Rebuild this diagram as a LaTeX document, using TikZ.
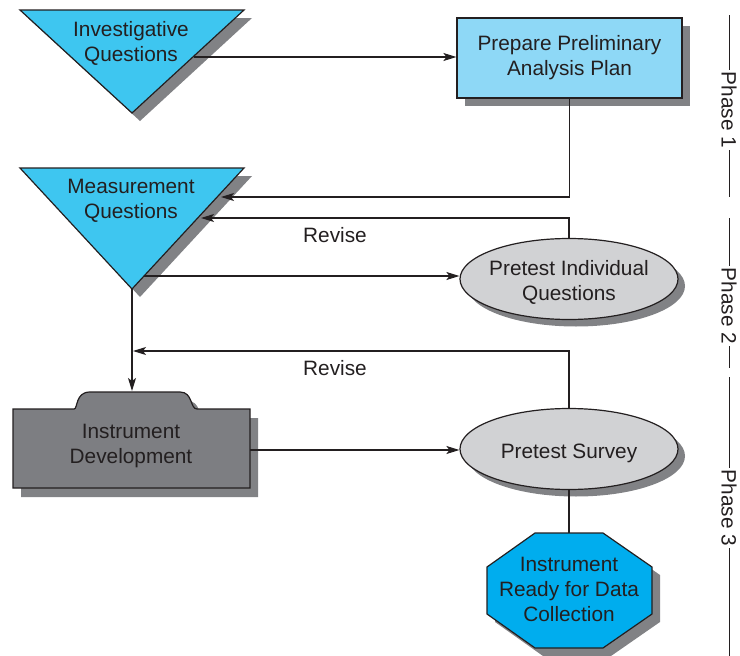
\documentclass[tikz,border=0pt]{standalone}
\usepackage{fontspec}
\setmainfont{Liberation Sans}
\usetikzlibrary{arrows.meta,shapes.geometric,shadows}
\definecolor{ink}{HTML}{231F20}
\definecolor{triblue}{HTML}{3EC6F0}
\definecolor{planblue}{HTML}{8ED8F6}
\definecolor{ovalgray}{HTML}{D1D2D4}
\definecolor{devgray}{HTML}{7D7E82}
\definecolor{octblue}{HTML}{00ADEE}
\definecolor{shgray}{HTML}{818285}
\begin{document}
\begin{tikzpicture}[x=1pt,y=-1pt,font=\fontsize{20.8}{25}\selectfont,>={Stealth[length=13pt,width=8pt,inset=3pt]},
  ln/.style={line width=1.2pt,draw=ink},
  shdw/.style={drop shadow={shadow xshift=8pt,shadow yshift=-8pt,fill=shgray,opacity=1}},
  txt/.style={align=center,text=ink,inner sep=0pt},
  tri/.style={draw=ink,line width=1.2pt,fill=triblue,shdw},
  planbox/.style={txt,draw=ink,line width=1.2pt,fill=planblue,minimum width=225pt,minimum height=80pt,shdw},
  oval/.style={ellipse,draw=ink,line width=1.2pt,fill=ovalgray,inner sep=0pt,minimum width=218pt,minimum height=81pt,
    drop shadow={shadow xshift=7pt,shadow yshift=-7pt,fill=shgray,opacity=1}},
  devbox/.style={draw=ink,line width=1.2pt,fill=devgray,drop shadow={shadow xshift=8pt,shadow yshift=-9pt,fill=shgray,opacity=1}},
  octo/.style={draw=ink,line width=1.2pt,fill=octblue,shdw},
  phase/.style={rotate=-90,inner sep=2pt,text=ink}]
  \useasboundingbox (0,0) rectangle (740,656);
  % shapes
  \draw[tri] (20,10) -- (244,10) -- (132,113) -- cycle;
  \node[txt] (iq) at (131,43) {Investigative\\Questions};
  \node[planbox] (plan) at (569.5,58) {Prepare Preliminary\\Analysis Plan};
  \draw[tri] (20,168) -- (244,168) -- (132,289) -- cycle;
  \node[txt] (mq) at (131,201) {Measurement\\Questions};
  \node[oval] (pind) at (569,279) {};
  \node[txt] (pind-t) at (569,282) {Pretest Individual\\Questions};
  \node[oval] (psur) at (569,449) {};
  \node[txt,text depth=0pt] (psur-t) at (569,451) {Pretest Survey};
  \draw[devbox] (13,488) -- (13,409) -- (74,409) .. controls (78,409) and (75,392) .. (90,392) -- (180,392)
    .. controls (193,392) and (190,409) .. (197,409) -- (250,409) -- (250,488) -- cycle;
  \node[txt] (dev) at (131,446) {Instrument\\Development};
  \draw[octo] (535,533) -- (603,533) -- (652,567) -- (652,614) -- (603,648) -- (535,648) -- (487,614) -- (487,567) -- cycle;
  \node[txt] (ready) at (569,589) {Instrument\\Ready for Data\\Collection};
  % connector ends on the shapes
  \coordinate (iq-out) at (194,57);
  \coordinate (mq-in1) at (221,197);
  \coordinate (mq-in2) at (201,218);
  \coordinate (mq-out) at (144,276);
  \coordinate (mq-tip) at (132,289);
  \coordinate (dev-top) at (132,391);
  \coordinate (dev-out) at (250,450);
  \coordinate (rev2-end) at (133,351);
  \coordinate (ready-top) at (569,533);
  % connectors
  \draw[ln,->] (iq-out) -- (iq-out -| plan.west);
  \draw[ln,->] (plan.south) |- (mq-in1);
  \draw[ln,->] (pind.north) |- (mq-in2);
  \draw[ln,->] (mq-out) -- (mq-out -| pind.west);
  \draw[ln,->] (mq-tip) -- (dev-top);
  \draw[ln,->] (psur.north) |- (rev2-end);
  \draw[ln,->] (dev-out) -- (dev-out -| psur.west);
  \draw[ln] (psur.south) -- (ready-top);
  \node[txt] (rev1) at (335,235) {Revise};
  \node[txt] (rev2) at (335,368) {Revise};
  % phases
  \node[phase] (ph1) at (729,110) {Phase 1};
  \node[phase] (ph2) at (729,306) {Phase 2};
  \node[phase] (ph3) at (729,508) {Phase 3};
  \draw[ln,line width=1pt] (729,15) -- (ph1.west) (ph1.east) -- (729,197);
  \draw[ln,line width=1pt] (729,218) -- (ph2.west) (ph2.east) -- (729,368);
  \draw[ln,line width=1pt] (729,377) -- (ph3.west) (ph3.east) -- (729,656);
\end{tikzpicture}
\end{document}
